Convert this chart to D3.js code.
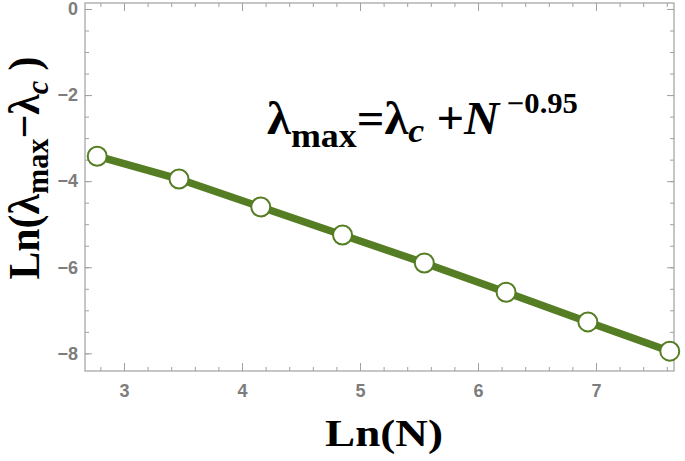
<!DOCTYPE html>
<html>
<head>
<meta charset="utf-8">
<script src="https://cdn.jsdelivr.net/npm/d3@7"></script>
<style>
  body { margin: 0; background: #fff; }
  svg { display: block; }
</style>
</head>
<body>
<svg></svg>
<script>
// ln(N) for N = 16 ... 2048, and ln(lambda_max - lambda_c)
var lnN = [2.773, 3.466, 4.159, 4.852, 5.545, 6.238, 6.931, 7.625]
var lnGap = [-3.42, -3.95, -4.60, -5.25, -5.90, -6.58, -7.27, -7.95]
var xTicks = [3, 4, 5, 6, 7]
var yTicks = [0, -2, -4, -6, -8]

var screen = {width: 685, height: 461}
var plot = {left: 85, right: 674, top: 3, bottom: 371}
var green = "#557d23"
var gray = "#a0a0a0"

var svg = d3.select("svg")
            .attr("width", screen.width)
            .attr("height", screen.height)

var xScale = d3.scaleLinear()
               .domain([2.6695, 7.661])
               .range([plot.left, plot.right])

var yScale = d3.scaleLinear()
               .domain([0.139, -8.41])
               .range([plot.top, plot.bottom])

// minor ticks
var xMinor = d3.range(2.8, 7.61, 0.2)
var yMinor = d3.range(0, -8.41, -0.5)

function styleAxis(g) {
  g.select(".domain").remove()
  g.selectAll("line").attr("stroke", gray)
  g.selectAll("text")
   .attr("fill", "#7d7d7d")
   .style("font-family", "'Liberation Sans', Arial, sans-serif")
   .style("font-weight", "bold")
   .style("font-size", "18px")
}

// bottom
svg.append("g").attr("transform", "translate(0," + plot.bottom + ")")
   .call(d3.axisBottom(xScale).tickValues(xMinor).tickSize(-4).tickFormat(""))
   .call(styleAxis)
svg.append("g").attr("transform", "translate(0," + plot.bottom + ")")
   .call(d3.axisBottom(xScale).tickValues(xTicks).tickSize(-8).tickPadding(13).tickFormat(d3.format("d")))
   .call(styleAxis)
// top
svg.append("g").attr("transform", "translate(0," + plot.top + ")")
   .call(d3.axisTop(xScale).tickValues(xMinor).tickSize(-4).tickFormat(""))
   .call(styleAxis)
svg.append("g").attr("transform", "translate(0," + plot.top + ")")
   .call(d3.axisTop(xScale).tickValues(xTicks).tickSize(-8).tickFormat(""))
   .call(styleAxis)
// left
svg.append("g").attr("transform", "translate(" + plot.left + ",0)")
   .call(d3.axisLeft(yScale).tickValues(yMinor).tickSize(-4).tickFormat(""))
   .call(styleAxis)
svg.append("g").attr("transform", "translate(" + plot.left + ",0)")
   .call(d3.axisLeft(yScale).tickValues(yTicks).tickSize(-7).tickPadding(7).tickFormat(d3.format("d")))
   .call(styleAxis)
// right
svg.append("g").attr("transform", "translate(" + plot.right + ",0)")
   .call(d3.axisRight(yScale).tickValues(yMinor).tickSize(-4).tickFormat(""))
   .call(styleAxis)
svg.append("g").attr("transform", "translate(" + plot.right + ",0)")
   .call(d3.axisRight(yScale).tickValues(yTicks).tickSize(-7).tickFormat(""))
   .call(styleAxis)

svg.append("rect")
   .attr("x", plot.left).attr("y", plot.top)
   .attr("width", plot.right - plot.left)
   .attr("height", plot.bottom - plot.top)
   .attr("fill", "none")
   .attr("stroke", gray)
   .attr("stroke-width", 1.2)

var pts = lnN.map(function(d, i){ return [d, lnGap[i]] })

var line = d3.line()
             .x(function(d){ return xScale(d[0]) })
             .y(function(d){ return yScale(d[1]) })

svg.append("path")
   .datum(pts)
   .attr("d", line)
   .attr("fill", "none")
   .attr("stroke", green)
   .attr("stroke-width", 7.5)

svg.selectAll("circle.pt")
   .data(pts)
   .enter()
   .append("circle")
   .attr("class", "pt")
   .attr("cx", function(d){ return xScale(d[0]) })
   .attr("cy", function(d){ return yScale(d[1]) })
   .attr("r", 9.5)
   .attr("fill", "#fff")
   .attr("stroke", green)
   .attr("stroke-width", 2)

var serif = "'Liberation Serif', 'Times New Roman', serif"

// stretch a text block horizontally (in its own frame) to a given width
function fitText(t, width, transform) {
  var w = t.node().getBBox().width
  t.attr("transform", transform + " scale(" + (width / w) + ",1)")
}

// x label
var xl = svg.append("text")
   .attr("text-anchor", "middle")
   .style("font-family", serif)
   .style("font-weight", "bold")
   .style("font-size", "37px")
   .attr("fill", "#000")
   .text("Ln(N)")
fitText(xl, 118, "translate(384,446)")

// y label
var yl = svg.append("text")
   .attr("text-anchor", "middle")
   .style("font-family", serif)
   .style("font-weight", "bold")
   .style("font-size", "44px")
   .attr("fill", "#000")
yl.append("tspan").text("Ln(λ")
yl.append("tspan").attr("dy", 9).style("font-size", "32px").text("max")
yl.append("tspan").attr("dy", -9).text("−λ")
yl.append("tspan").attr("dy", 9).style("font-size", "32px").style("font-style", "italic").text("c")
yl.append("tspan").attr("dy", -9).text(" )")
fitText(yl, 223, "translate(39,168) rotate(-90)")

// fit annotation
var ann = svg.append("text")
   .style("font-family", serif)
   .style("font-weight", "bold")
   .style("font-size", "46px")
   .attr("fill", "#000")
ann.append("tspan").text("λ")
ann.append("tspan").attr("dy", 13).style("font-size", "34px").text("max")
ann.append("tspan").attr("dy", -13).text("=λ")
ann.append("tspan").attr("dy", 8).style("font-size", "34px").style("font-style", "italic").text("c")
ann.append("tspan").attr("dy", -8).text(" +")
ann.append("tspan").style("font-style", "italic").text("N")
ann.append("tspan").attr("dy", -21).style("font-size", "29px").text(" −0.95")
fitText(ann, 311, "translate(267,134)")
</script>
</body>
</html>
